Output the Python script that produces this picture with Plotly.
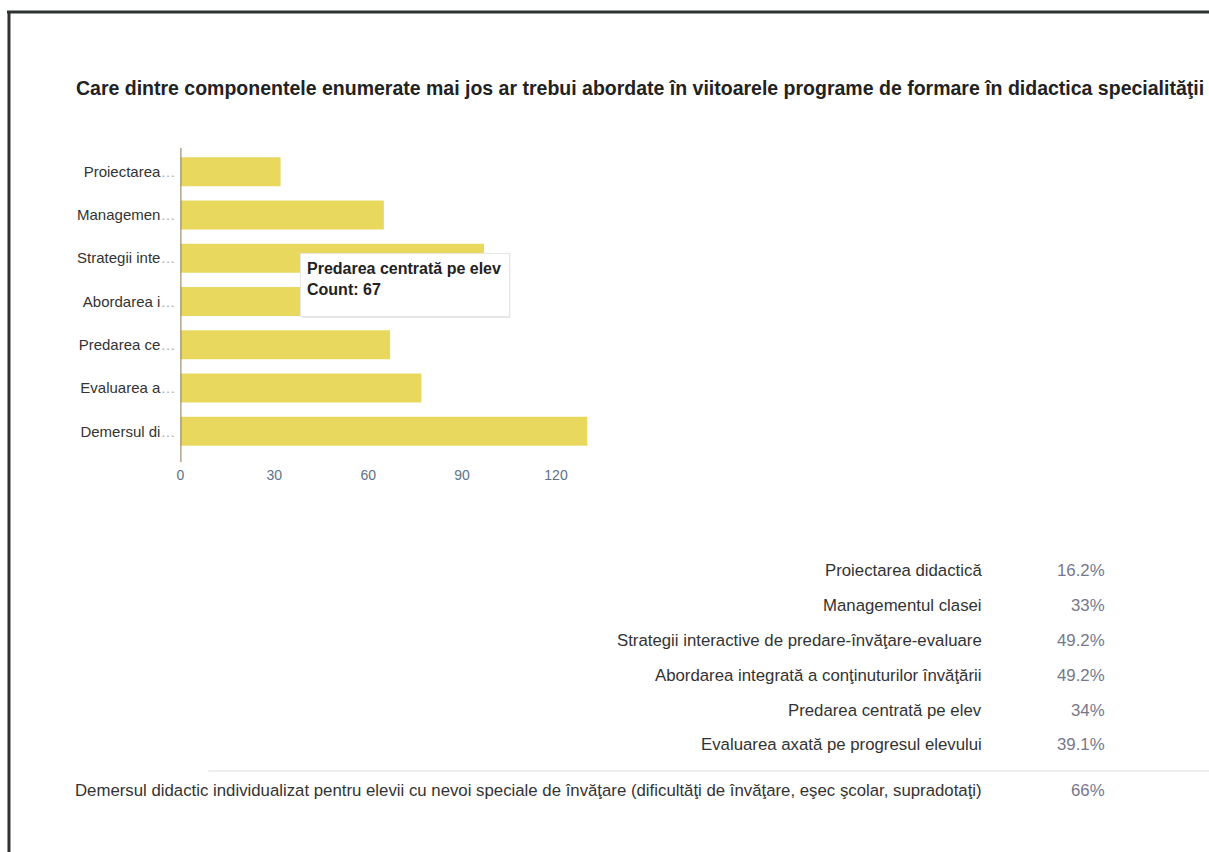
import plotly.graph_objects as go

# answers (full text), short labels shown on the axis, counts and shares
categories = [
    "Proiectarea didactică",
    "Managementul clasei",
    "Strategii interactive de predare-învăţare-evaluare",
    "Abordarea integrată a conţinuturilor învăţării",
    "Predarea centrată pe elev",
    "Evaluarea axată pe progresul elevului",
    "Demersul didactic individualizat pentru elevii cu nevoi speciale de învăţare "
    "(dificultăţi de învăţare, eşec şcolar, supradotaţi)",
]
short_labels = ["Proiectarea", "Managemen", "Strategii inte", "Abordarea i",
                "Predarea ce", "Evaluarea a", "Demersul di"]
counts = [32, 65, 97, 97, 67, 77, 130]
percents = ["16.2%", "33%", "49.2%", "49.2%", "34%", "39.1%", "66%"]
x_ticks = [0, 30, 60, 90, 120]

title = ("Care dintre componentele enumerate mai jos ar trebui abordate în viitoarele "
         "programe de formare în didactica specialităţii")

W, H = 1209, 852
FONT = "Liberation Sans, Arial, sans-serif"


def px(x):
    return x / W


def py(y):
    return 1 - y / H


fig = go.Figure()

fig.add_trace(go.Bar(
    x=counts,
    y=categories,
    orientation="h",
    marker=dict(color="#e8d95e", line=dict(width=0)),
    showlegend=False,
))

fig.update_layout(
    width=W, height=H,
    margin=dict(l=0, r=0, t=0, b=0),
    paper_bgcolor="white",
    plot_bgcolor="white",
    font=dict(family=FONT, color="#333333"),
    bargap=0.33,
    xaxis=dict(
        domain=[px(177), px(600)],
        range=[0, 134.7],
        tickvals=x_ticks,
        showgrid=False, zeroline=False, showline=False,
        tickfont=dict(size=14, color="#5d7289"),
        ticks="", ticklabelstandoff=12,
    ),
    yaxis=dict(
        domain=[py(453), py(150)],
        autorange="reversed",
        tickvals=categories,
        ticktext=[s + "<span style='color:#aaaaaa'>…</span>" for s in short_labels],
        showgrid=False, zeroline=False, showline=False,
        tickfont=dict(size=15, color="#333333"),
        ticks="", ticklabelstandoff=4,
    ),
)

shapes = [
    # axis line at zero
    dict(type="line", xref="x", yref="paper", x0=0, x1=0, y0=py(148), y1=py(462),
         line=dict(color="#8b7656", width=2)),
    # scanned page frame
    dict(type="line", xref="paper", yref="paper", x0=px(3), x1=1, y0=py(12), y1=py(12),
         line=dict(color="#2f3330", width=3)),
    dict(type="line", xref="paper", yref="paper", x0=px(5), x1=px(5), y0=py(11), y1=0,
         line=dict(color="#2f3330", width=3)),
    # separator above the last table row
    dict(type="line", xref="paper", yref="paper", x0=px(205), x1=1, y0=py(771), y1=py(771),
         line=dict(color="#dddddd", width=1)),
    # tooltip shadow
    dict(type="rect", xref="paper", yref="paper", x0=px(299), x1=px(508), y0=py(318), y1=py(255),
         fillcolor="rgba(0,0,0,0.10)", line=dict(width=0), layer="above"),
]

annotations = [
    dict(text="<b>" + title + "</b>", xref="paper", yref="paper", x=px(70), y=py(88),
         xanchor="left", yanchor="middle", showarrow=False,
         font=dict(size=19.5, color="#222222")),
    # hover tooltip
    dict(text=f"<b>{categories[4]}</b><br><b>Count: {counts[4]}</b>",
         xref="paper", yref="paper", x=px(297), y=py(253), xanchor="left", yanchor="top",
         showarrow=False, align="left", valign="top", bgcolor="white",
         bordercolor="#e6e6e6", borderwidth=1, borderpad=6, width=196, height=50,
         font=dict(size=16, color="#222222")),
]

# summary table below the chart
row_y = [570, 605, 640, 675, 710, 744, 790]
for cat, pct, y in zip(categories, percents, row_y):
    annotations.append(dict(text=cat, xref="paper", yref="paper", x=px(983), y=py(y),
                            xanchor="right", yanchor="middle", showarrow=False,
                            font=dict(size=16.8, color="#333333")))
    annotations.append(dict(text=pct, xref="paper", yref="paper", x=px(1107), y=py(y),
                            xanchor="right", yanchor="middle", showarrow=False,
                            font=dict(size=16.8, color="#77778a")))

fig.update_layout(shapes=shapes, annotations=annotations)

fig.write_html("out.html", config={"displayModeBar": False},
               post_script="document.body.style.margin='0';")
